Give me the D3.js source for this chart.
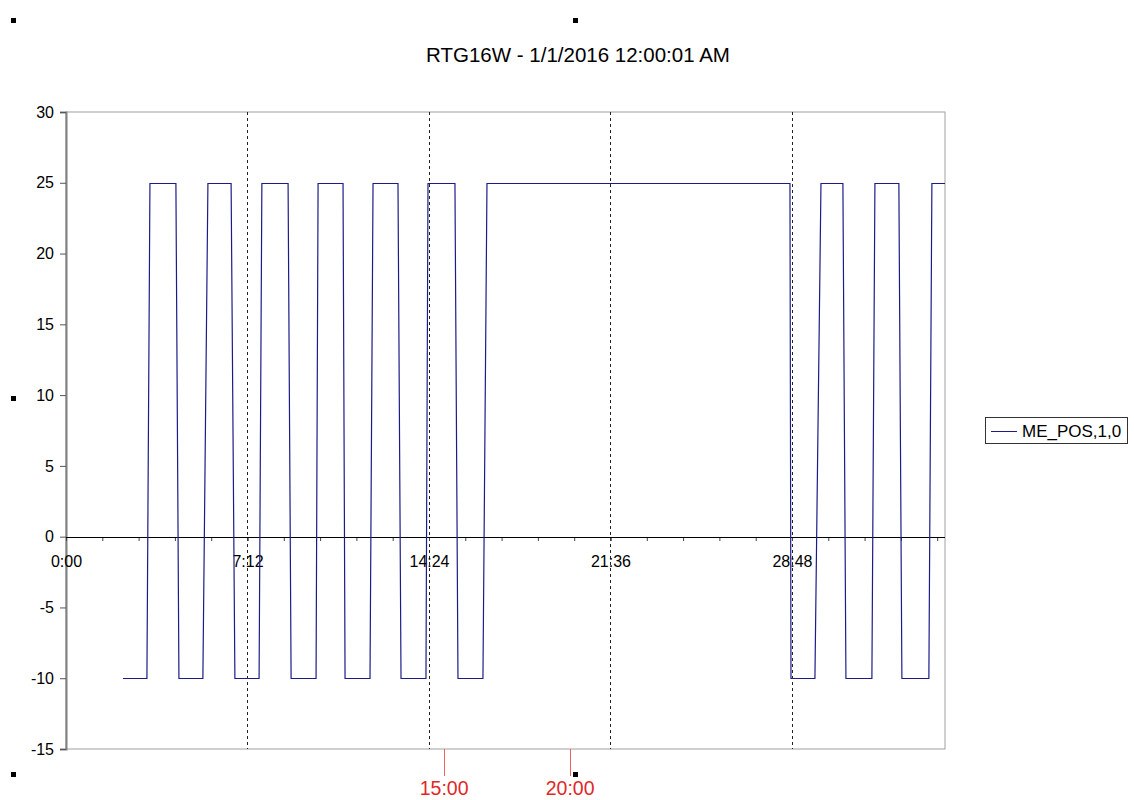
<!DOCTYPE html>
<html>
<head>
<meta charset="utf-8">
<script src="https://cdn.jsdelivr.net/npm/d3@7"></script>
<style>
body { margin: 0; background: #fff; }
svg text { font-family: Arial, "Liberation Sans", sans-serif; }
</style>
</head>
<body>
<svg id="chart" width="1134" height="800"></svg>
<script>
// hours since 1/1/2016 12:00:01 AM
var times = [2.26, 3.21, 3.33, 4.36, 4.48, 5.43, 5.63, 6.55, 6.70, 7.66, 7.77, 8.81, 8.93,
  9.92, 10.00, 10.99, 11.07, 12.06, 12.18, 13.17, 13.29, 14.28, 14.36, 15.43, 15.55,
  16.54, 16.70, 28.72, 28.76, 29.71, 29.95, 30.82, 30.94, 31.97, 32.09, 33.04, 33.16,
  34.23, 34.35, 34.87];
var values = [-10, -10, 25, 25, -10, -10, 25, 25, -10, -10, 25, 25, -10,
  -10, 25, 25, -10, -10, 25, 25, -10, -10, 25, 25, -10,
  -10, 25, 25, -10, -10, 25, 25, -10, -10, 25, 25, -10,
  -10, 25, 25];
var yTicks = [-15, -10, -5, 0, 5, 10, 15, 20, 25, 30];
var majorTicks = [0, 7.2, 14.4, 21.6, 28.8];
var minorTicks = d3.range(0, 35, 1.44);
var markers = [15, 20];
var seriesName = "ME_POS,1,0";
var title = "RTG16W - 1/1/2016 12:00:01 AM";

var margin = {top: 112, left: 66, right: 189, bottom: 51};
var width = 1134 - margin.left - margin.right;
var height = 800 - margin.top - margin.bottom;

var svg = d3.select("#chart");

var x = d3.scaleLinear().domain([0, 34.87]).range([margin.left, margin.left + width]);
var y = d3.scaleLinear().domain([-15, 30]).range([margin.top + height, margin.top]);

function fmt(h) {
  var m = Math.round(h * 60);
  return Math.floor(m / 60) + ":" + d3.format("02")(m % 60);
}

// title
svg.append("text")
  .attr("x", 578).attr("y", 62)
  .attr("text-anchor", "middle")
  .attr("font-size", 20.5)
  .text(title);

// frame
svg.append("rect")
  .attr("x", x(0)).attr("y", y(30))
  .attr("width", width).attr("height", height)
  .attr("fill", "none").attr("stroke", "#a0a0a0").attr("stroke-width", 1);

// vertical dotted grid
svg.append("g").selectAll("line")
  .data(majorTicks.slice(1))
  .join("line")
    .attr("x1", d => Math.round(x(d)) + 0.5).attr("x2", d => Math.round(x(d)) + 0.5)
    .attr("y1", y(30)).attr("y2", y(-15))
    .attr("stroke", "#222").attr("stroke-dasharray", "3,3");

// y axis
var yAxis = svg.append("g")
  .attr("transform", "translate(" + x(0) + ",0)")
  .call(d3.axisLeft(y).tickValues(yTicks).tickSize(6).tickPadding(6).tickFormat(d => String(d)))
  .attr("font-size", 16).attr("font-family", null);
yAxis.select(".domain").attr("stroke", "#808080").attr("stroke-width", 2);
yAxis.selectAll(".tick line").attr("stroke", "#555");
yAxis.selectAll(".tick text").attr("fill", "#000");

// zero axis with time ticks
var xAxis = svg.append("g")
  .attr("transform", "translate(0," + Math.round(y(0)) + ")");
xAxis.call(d3.axisBottom(x).tickValues(minorTicks).tickSize(4).tickFormat(""));
xAxis.select(".domain").remove();
xAxis.selectAll(".tick line").attr("stroke", "#444");
var xLabels = svg.append("g")
  .attr("transform", "translate(0," + Math.round(y(0)) + ")")
  .call(d3.axisBottom(x).tickValues(majorTicks).tickSize(4).tickPadding(15).tickFormat(fmt))
  .attr("font-size", 16).attr("font-family", null);
xLabels.select(".domain").remove();
xLabels.selectAll(".tick line").attr("stroke", "#444");
xLabels.selectAll(".tick text").attr("fill", "#000");
svg.append("line")
  .attr("x1", x(0)).attr("x2", x(34.87))
  .attr("y1", Math.round(y(0)) + 0.5).attr("y2", Math.round(y(0)) + 0.5)
  .attr("stroke", "#000");

// series
var pts = times.map((t, i) => [t, values[i]]);
svg.append("path")
  .datum(pts)
  .attr("fill", "none")
  .attr("stroke", "#1c1c88")
  .attr("stroke-width", 1.2)
  .attr("d", d3.line().x(d => x(d[0])).y(d => Math.round(y(d[1])) + 0.5));

// red time markers
var mk = svg.append("g").selectAll("g").data(markers).join("g");
mk.append("line")
  .attr("x1", d => Math.round(x(d)) + 0.5).attr("x2", d => Math.round(x(d)) + 0.5)
  .attr("y1", y(-15)).attr("y2", y(-15) + 27)
  .attr("stroke", "#f06060");
mk.append("text")
  .attr("x", d => x(d)).attr("y", 795)
  .attr("text-anchor", "middle")
  .attr("fill", "#e02828")
  .attr("font-size", 19.5)
  .text(d => d + ":00");

// legend
var lg = svg.append("g").attr("transform", "translate(985,417)");
lg.append("rect").attr("x", 0.5).attr("y", 0.5).attr("width", 142).attr("height", 26)
  .attr("fill", "#fff").attr("stroke", "#333");
lg.append("line").attr("x1", 6).attr("x2", 32).attr("y1", 14.5).attr("y2", 14.5)
  .attr("stroke", "#1c1c88");
lg.append("text").attr("x", 37).attr("y", 20).attr("font-size", 17).text(seriesName);

// selection handles
var handles = [[11, 18], [573, 18], [11, 396], [11, 772], [573, 772]];
svg.append("g").selectAll("rect").data(handles).join("rect")
  .attr("x", d => d[0]).attr("y", d => d[1]).attr("width", 5).attr("height", 5)
  .attr("fill", "#000");
</script>
</body>
</html>
